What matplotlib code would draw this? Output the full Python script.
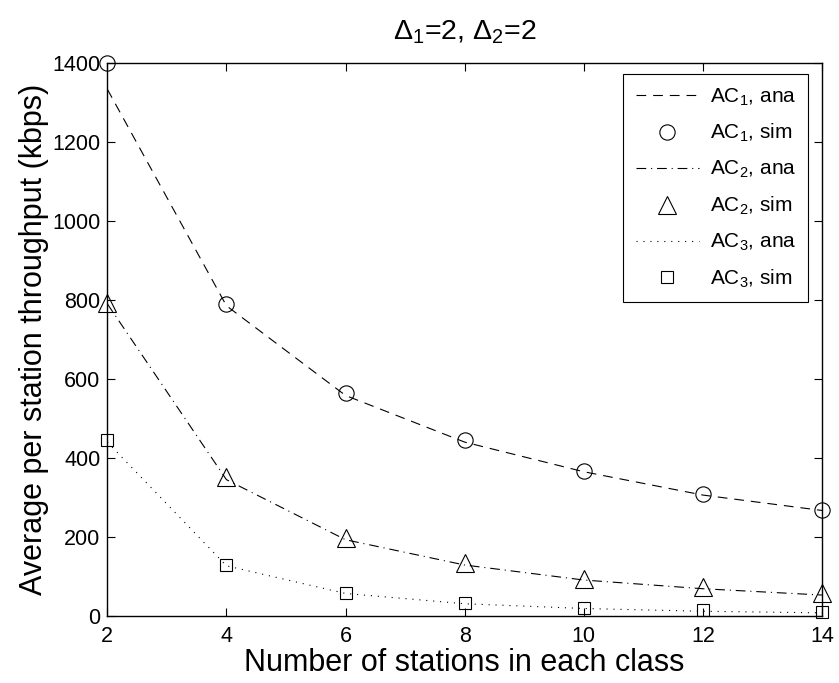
import matplotlib
matplotlib.use("Agg")
import matplotlib.pyplot as plt

plt.rcParams['font.family'] = ['Liberation Sans', 'DejaVu Sans']
plt.rcParams['mathtext.fontset'] = 'custom'
plt.rcParams['mathtext.rm'] = 'Liberation Sans'
plt.rcParams['mathtext.it'] = 'Liberation Sans'
plt.rcParams['mathtext.bf'] = 'Liberation Sans'
plt.rcParams['mathtext.sf'] = 'Liberation Sans'
plt.rcParams['lines.scale_dashes'] = False

# Number of stations in each class
stations = [2, 4, 6, 8, 10, 12, 14]

# Analytical throughput (kbps)
ac1_ana = [1333, 785, 558, 440, 365, 306, 267]
ac2_ana = [790, 345, 193, 129, 91, 69, 53]
ac3_ana = [440, 127, 57, 31, 19, 12, 8]

# Simulated throughput (kbps)
ac1_sim = [1400, 790, 564, 446, 368, 308, 268]
ac2_sim = [792, 351, 197, 133, 93, 73, 57]
ac3_sim = [446, 129, 57, 32, 19, 14, 9]

x_ticks = [2, 4, 6, 8, 10, 12, 14]
y_ticks = [0, 200, 400, 600, 800, 1000, 1200, 1400]

fig = plt.figure(figsize=(8.39, 6.83), dpi=100)
ax = fig.add_axes([0.1279, 0.0981, 0.8519, 0.8101])

lw = 0.8
ax.plot(stations, ac1_ana, color='black', lw=lw, dashes=(7, 5), label='AC$_1$, ana')
ax.plot(stations, ac1_sim, linestyle='none', marker='o', ms=11, mfc='none',
        mec='black', mew=lw, label='AC$_1$, sim', clip_on=False)
ax.plot(stations, ac2_ana, color='black', lw=lw, dashes=(7, 3.5, 0.8, 3.5), label='AC$_2$, ana')
ax.plot(stations, ac2_sim, linestyle='none', marker='^', ms=12.5, mfc='none',
        mec='black', mew=lw, label='AC$_2$, sim', clip_on=False)
ax.plot(stations, ac3_ana, color='black', lw=lw, dashes=(0.8, 4.2), label='AC$_3$, ana')
ax.plot(stations, ac3_sim, linestyle='none', marker='s', ms=8.5, mfc='none',
        mec='black', mew=lw, label='AC$_3$, sim', clip_on=False)

ax.set_xlim(2, 14)
ax.set_ylim(0, 1400)
ax.set_xticks(x_ticks)
ax.set_yticks(y_ticks)
ax.tick_params(direction='in', top=True, right=True, labelsize=15.5, length=6, width=0.8)
ax.tick_params(axis='x', pad=7)
ax.tick_params(axis='y', pad=5)
for s in ax.spines.values():
    s.set_linewidth(1.0)

ax.set_xlabel('Number of stations in each class', fontsize=22, labelpad=1)
ax.set_ylabel('Average per station throughput (kbps)', fontsize=22, labelpad=2)
ax.set_title(r'$\Delta_1$=2, $\Delta_2$=2', fontsize=20.5, pad=17)

leg = ax.legend(loc='upper right', bbox_to_anchor=(0.981, 0.98), fontsize=15,
                frameon=True, fancybox=False, edgecolor='black', framealpha=1,
                handlelength=3.05, handletextpad=0.5, labelspacing=0.7,
                borderpad=0.6, borderaxespad=0.0)
leg.get_frame().set_linewidth(0.8)

fig.savefig('out.png', dpi=100)
